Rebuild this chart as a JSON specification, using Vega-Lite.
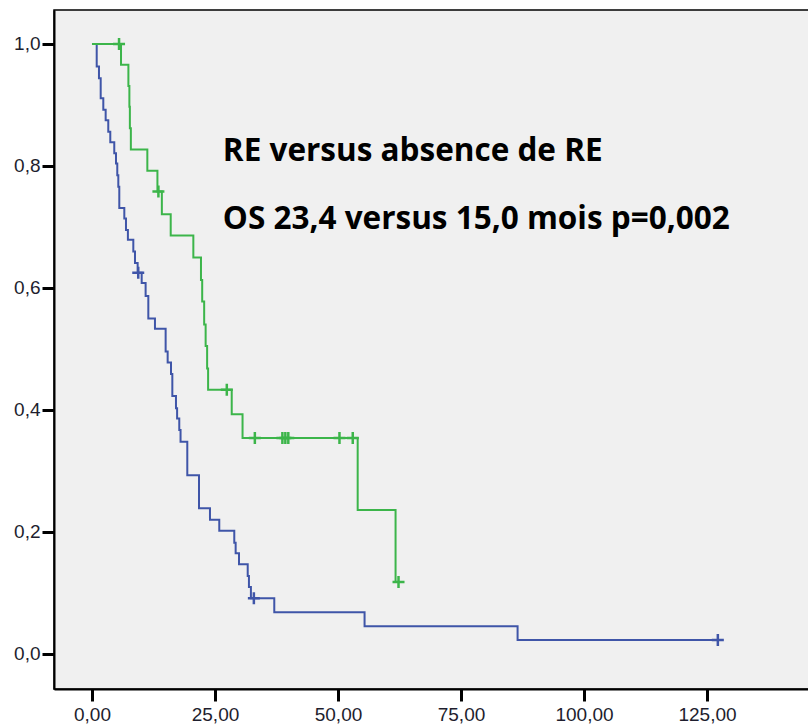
{
  "$schema": "https://vega.github.io/schema/vega-lite/v6.json",
  "width": 756,
  "height": 679,
  "autosize": {"type": "none"},
  "padding": {"left": 54, "top": 10, "right": 0, "bottom": 37},
  "background": "white",
  "config": {
    "view": {"fill": "#f0f0f0", "stroke": "#000000", "strokeWidth": 1.5},
    "axis": {
      "domainColor": "#000000",
      "domainWidth": 2,
      "tickColor": "#000000",
      "tickWidth": 3,
      "tickSize": 12,
      "labelFont": "Liberation Sans",
      "labelFontSize": 19,
      "labelColor": "#1e1e2e",
      "labelPadding": 2,
      "grid": false,
      "title": null
    },
    "axisX": {"labelPadding": 4}
  },
  "datasets": {
    "curve": [
      {"group": "absence de RE", "t": 0, "s": 1.0},
      {"group": "absence de RE", "t": 0.96, "s": 0.963},
      {"group": "absence de RE", "t": 1.42, "s": 0.944},
      {"group": "absence de RE", "t": 1.77, "s": 0.911},
      {"group": "absence de RE", "t": 2.3, "s": 0.892},
      {"group": "absence de RE", "t": 2.78, "s": 0.875},
      {"group": "absence de RE", "t": 3.31, "s": 0.856},
      {"group": "absence de RE", "t": 3.72, "s": 0.839},
      {"group": "absence de RE", "t": 4.53, "s": 0.821},
      {"group": "absence de RE", "t": 4.88, "s": 0.804},
      {"group": "absence de RE", "t": 5.14, "s": 0.785},
      {"group": "absence de RE", "t": 5.35, "s": 0.766},
      {"group": "absence de RE", "t": 5.55, "s": 0.731},
      {"group": "absence de RE", "t": 6.57, "s": 0.714},
      {"group": "absence de RE", "t": 6.91, "s": 0.695},
      {"group": "absence de RE", "t": 7.3, "s": 0.679},
      {"group": "absence de RE", "t": 8.4, "s": 0.66},
      {"group": "absence de RE", "t": 8.74, "s": 0.641},
      {"group": "absence de RE", "t": 9.28, "s": 0.625},
      {"group": "absence de RE", "t": 10.1, "s": 0.608},
      {"group": "absence de RE", "t": 10.9, "s": 0.587},
      {"group": "absence de RE", "t": 11.45, "s": 0.55},
      {"group": "absence de RE", "t": 12.8, "s": 0.533},
      {"group": "absence de RE", "t": 14.97, "s": 0.496},
      {"group": "absence de RE", "t": 15.38, "s": 0.478},
      {"group": "absence de RE", "t": 16.06, "s": 0.459},
      {"group": "absence de RE", "t": 16.33, "s": 0.423},
      {"group": "absence de RE", "t": 17.07, "s": 0.403},
      {"group": "absence de RE", "t": 17.3, "s": 0.386},
      {"group": "absence de RE", "t": 17.74, "s": 0.367},
      {"group": "absence de RE", "t": 18.0, "s": 0.348},
      {"group": "absence de RE", "t": 19.37, "s": 0.293},
      {"group": "absence de RE", "t": 21.75, "s": 0.239},
      {"group": "absence de RE", "t": 23.98, "s": 0.22},
      {"group": "absence de RE", "t": 25.87, "s": 0.202},
      {"group": "absence de RE", "t": 28.92, "s": 0.1825},
      {"group": "absence de RE", "t": 29.2, "s": 0.165},
      {"group": "absence de RE", "t": 29.88, "s": 0.147},
      {"group": "absence de RE", "t": 31.65, "s": 0.128},
      {"group": "absence de RE", "t": 31.9, "s": 0.11},
      {"group": "absence de RE", "t": 32.3, "s": 0.0913},
      {"group": "absence de RE", "t": 37.05, "s": 0.0684},
      {"group": "absence de RE", "t": 55.4, "s": 0.0456},
      {"group": "absence de RE", "t": 86.5, "s": 0.0228},
      {"group": "absence de RE", "t": 127.2, "s": 0.0228},
      {"group": "RE", "t": 0, "s": 1.0},
      {"group": "RE", "t": 5.9, "s": 0.966},
      {"group": "RE", "t": 7.4, "s": 0.931},
      {"group": "RE", "t": 7.6, "s": 0.897},
      {"group": "RE", "t": 7.7, "s": 0.862},
      {"group": "RE", "t": 7.9, "s": 0.827},
      {"group": "RE", "t": 11.25, "s": 0.792},
      {"group": "RE", "t": 13.3, "s": 0.758},
      {"group": "RE", "t": 14.2, "s": 0.721},
      {"group": "RE", "t": 16.0, "s": 0.686},
      {"group": "RE", "t": 20.6, "s": 0.65},
      {"group": "RE", "t": 22.15, "s": 0.613},
      {"group": "RE", "t": 22.4, "s": 0.578},
      {"group": "RE", "t": 22.8, "s": 0.54},
      {"group": "RE", "t": 23.1, "s": 0.505},
      {"group": "RE", "t": 23.4, "s": 0.468},
      {"group": "RE", "t": 23.6, "s": 0.433},
      {"group": "RE", "t": 28.4, "s": 0.393},
      {"group": "RE", "t": 30.6, "s": 0.354},
      {"group": "RE", "t": 54.0, "s": 0.236},
      {"group": "RE", "t": 61.7, "s": 0.118},
      {"group": "RE", "t": 62.3, "s": 0.118}
    ],
    "censor": [
      {"group": "absence de RE", "t": 9.4, "s": 0.625},
      {"group": "absence de RE", "t": 32.9, "s": 0.0913},
      {"group": "absence de RE", "t": 127.2, "s": 0.0228},
      {"group": "RE", "t": 5.5, "s": 1.0},
      {"group": "RE", "t": 13.5, "s": 0.758},
      {"group": "RE", "t": 27.4, "s": 0.433},
      {"group": "RE", "t": 33.1, "s": 0.354},
      {"group": "RE", "t": 38.7, "s": 0.354},
      {"group": "RE", "t": 39.3, "s": 0.354},
      {"group": "RE", "t": 39.9, "s": 0.354},
      {"group": "RE", "t": 50.3, "s": 0.354},
      {"group": "RE", "t": 53.0, "s": 0.354},
      {"group": "RE", "t": 62.3, "s": 0.118}
    ]
  },
  "layer": [
    {
      "data": {"name": "curve"},
      "mark": {"type": "line", "interpolate": "step-after", "strokeWidth": 2},
      "encoding": {
        "x": {
          "field": "t", "type": "quantitative",
          "scale": {"domain": [-7.72, 145.93], "nice": false, "zero": false},
          "axis": {"values": [0, 25, 50, 75, 100, 125], "labelExpr": "replace(format(datum.value, '.2f'), '.', ',')"}
        },
        "y": {
          "field": "s", "type": "quantitative",
          "scale": {"domain": [-0.0574, 1.0557], "nice": false, "zero": false},
          "axis": {"values": [0, 0.2, 0.4, 0.6, 0.8, 1.0], "labelExpr": "replace(format(datum.value, '.1f'), '.', ',')"}
        },
        "color": {
          "field": "group", "type": "nominal",
          "scale": {"domain": ["RE", "absence de RE"], "range": ["#3cb54a", "#3f55a8"]},
          "legend": null
        },
        "order": {"field": "t"}
      }
    },
    {
      "data": {"name": "censor"},
      "mark": {"type": "point", "shape": "M-1,0H1M0,-1V1", "size": 144, "filled": false, "strokeWidth": 2.5, "opacity": 1},
      "encoding": {
        "x": {"field": "t", "type": "quantitative"},
        "y": {"field": "s", "type": "quantitative"},
        "color": {"field": "group", "type": "nominal", "legend": null}
      }
    },
    {
      "data": {"values": [{"label": "RE versus absence de RE"}]},
      "mark": {"type": "text", "align": "left", "baseline": "alphabetic", "font": "Open Sans", "fontWeight": "bold", "fontSize": 31.5, "color": "#000000"},
      "encoding": {
        "x": {"datum": 26.6, "type": "quantitative"},
        "y": {"datum": 0.8087, "type": "quantitative"},
        "text": {"field": "label"}
      }
    },
    {
      "data": {"values": [{"label": "OS 23,4 versus 15,0 mois p=0,002"}]},
      "mark": {"type": "text", "align": "left", "baseline": "alphabetic", "font": "Open Sans", "fontWeight": "bold", "fontSize": 31.5, "color": "#000000"},
      "encoding": {
        "x": {"datum": 26.6, "type": "quantitative"},
        "y": {"datum": 0.6967, "type": "quantitative"},
        "text": {"field": "label"}
      }
    }
  ]
}
